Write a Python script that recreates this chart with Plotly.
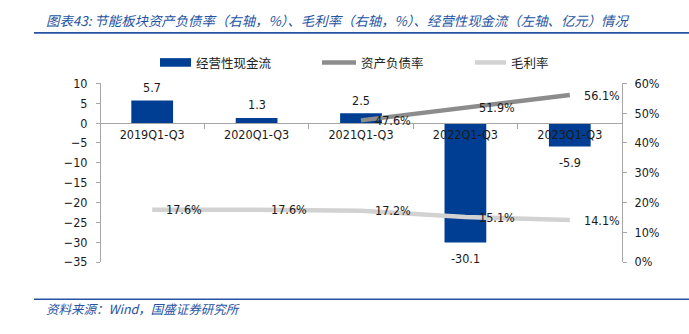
import plotly.graph_objects as go

# Data
periods = ["2019Q1-Q3", "2020Q1-Q3", "2021Q1-Q3", "2022Q1-Q3", "2023Q1-Q3"]
cash_flow = [5.7, 1.3, 2.5, -30.1, -5.9]            # 经营性现金流（亿元，左轴）
debt_ratio = [None, None, 0.476, 0.519, 0.561]      # 资产负债率（右轴）
gross_margin = [0.176, 0.176, 0.172, 0.151, 0.141]  # 毛利率（右轴）

left_ticks = list(range(-35, 11, 5))
right_ticks = [i / 10 for i in range(0, 7)]

W, H = 689, 334
BLUE = "#003E94"
DARK_GRAY = "#8C8C8C"
LIGHT_GRAY = "#D2D2D2"
AXIS = "#A6A6A6"
TITLE_BLUE = "#2553A3"
NUM_FONT = "DejaVu Sans Condensed, DejaVu Sans, sans-serif"
CJK_FONT = "Noto Sans CJK SC, sans-serif"


def px_x(p):
    return p / W


def px_y(p):
    return 1 - p / H


# plot area in pixels
x0, x1 = 100, 622
y_top, y_bot = 79, 266
xdom = [px_x(x0), px_x(x1)]
ydom = [px_y(y_bot), px_y(y_top)]
yrange = [-35, 10]
zero_pos = ydom[0] + (0 - yrange[0]) / (yrange[1] - yrange[0]) * (ydom[1] - ydom[0])

fig = go.Figure()

fig.add_trace(go.Bar(
    x=periods, y=cash_flow, name="经营性现金流",
    marker=dict(color=BLUE, line=dict(width=0)), width=0.4,
    xaxis="x", yaxis="y", showlegend=False,
))
fig.add_trace(go.Scatter(
    x=periods, y=debt_ratio, name="资产负债率", mode="lines",
    line=dict(color=DARK_GRAY, width=4.5), connectgaps=False,
    xaxis="x", yaxis="y2", showlegend=False,
))
fig.add_trace(go.Scatter(
    x=periods, y=gross_margin, name="毛利率", mode="lines",
    line=dict(color=LIGHT_GRAY, width=4.5),
    xaxis="x", yaxis="y2", showlegend=False,
))

annotations = []
label_font = dict(family=NUM_FONT, size=12.5, color="#1a1a1a")

# value labels on bars
for cat, v in zip(periods, cash_flow):
    annotations.append(dict(
        x=cat, y=v, xref="x", yref="y", text=f"{v:.1f}", showarrow=False,
        xanchor="center", yanchor="middle", yshift=13 if v >= 0 else -16,
        font=label_font,
    ))

# percentage labels on lines
for series in (debt_ratio, gross_margin):
    for cat, v in zip(periods, series):
        if v is None:
            continue
        annotations.append(dict(
            x=cat, y=v, xref="x", yref="y2", text=f"{v * 100:.1f}%", showarrow=False,
            xanchor="center", yanchor="middle", xshift=32,
            font=label_font,
        ))

# title and source
annotations.append(dict(
    x=px_x(44), y=px_y(13), xref="paper", yref="paper", showarrow=False,
    xanchor="left", yanchor="middle",
    text="图表43: 节能板块资产负债率（右轴，%）、毛利率（右轴，%）、经营性现金流（左轴、亿元）情况",
    font=dict(family=CJK_FONT, size=13.4, color=TITLE_BLUE, style="italic"),
))
annotations.append(dict(
    x=px_x(44), y=px_y(315), xref="paper", yref="paper", showarrow=False,
    xanchor="left", yanchor="middle",
    text="资料来源：Wind，国盛证券研究所",
    font=dict(family=CJK_FONT, size=12.5, color=TITLE_BLUE, style="italic"),
))

# legend
legend_items = [
    ("经营性现金流", "rect", BLUE, 160, 191),
    ("资产负债率", "line", DARK_GRAY, 322, 356),
    ("毛利率", "line", LIGHT_GRAY, 475, 506),
]
shapes = []
ly = 57
for name, kind, color, lx0, lx1 in legend_items:
    if kind == "rect":
        shapes.append(dict(type="rect", xref="paper", yref="paper",
                           x0=px_x(lx0), x1=px_x(lx1), y0=px_y(ly + 4.5), y1=px_y(ly - 4.5),
                           fillcolor=color, line=dict(width=0)))
    else:
        shapes.append(dict(type="line", xref="paper", yref="paper",
                           x0=px_x(lx0), x1=px_x(lx1), y0=px_y(ly), y1=px_y(ly),
                           line=dict(color=color, width=4.5)))
    annotations.append(dict(
        x=px_x(lx1 + 3), y=px_y(ly), xref="paper", yref="paper", showarrow=False,
        xanchor="left", yanchor="middle", text=name,
        font=dict(family=CJK_FONT, size=12.5, color="#222222"),
    ))

# header and footer rules
for yy in (26, 305):
    shapes.append(dict(type="line", xref="paper", yref="paper",
                       x0=px_x(34), x1=1, y0=px_y(yy), y1=px_y(yy),
                       line=dict(color=TITLE_BLUE, width=1.6)))

fig.update_layout(
    width=W, height=H,
    margin=dict(l=0, r=0, t=0, b=0),
    paper_bgcolor="white", plot_bgcolor="white",
    font=dict(family=NUM_FONT, size=12.5, color="#1a1a1a"),
    xaxis=dict(
        domain=xdom, anchor="free", position=zero_pos,
        type="category", categoryorder="array", categoryarray=periods,
        showline=True, linecolor=AXIS, linewidth=1,
        ticks="outside", tickson="boundaries", ticklen=5, tickcolor=AXIS,
        showgrid=False, zeroline=False,
        tickfont=dict(family=NUM_FONT, size=12.5, color="#1a1a1a"),
        range=[-0.5, 4.5],
    ),
    yaxis=dict(
        domain=ydom, range=yrange, tickvals=left_ticks,
        showline=True, linecolor=AXIS, linewidth=1,
        ticks="outside", ticklen=4, tickcolor=AXIS,
        showgrid=False, zeroline=False,
        anchor="free", position=xdom[0],
        ticklabelstandoff=6,
    ),
    yaxis2=dict(
        domain=ydom, range=[0, 0.6], tickvals=right_ticks, tickformat=".0%",
        overlaying="y", side="right", anchor="free", position=xdom[1],
        showline=True, linecolor=AXIS, linewidth=1,
        ticks="outside", ticklen=4, tickcolor=AXIS,
        showgrid=False, zeroline=False,
        ticklabelstandoff=5,
    ),
    showlegend=False,
    annotations=annotations,
    shapes=shapes,
    bargap=0.6,
)

fig.write_html("out.html")
